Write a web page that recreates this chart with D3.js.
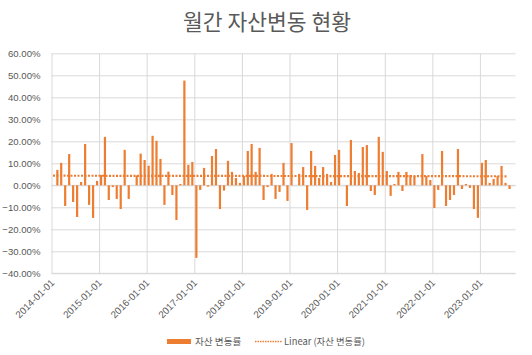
<!DOCTYPE html>
<html><head><meta charset="utf-8">
<script src="https://cdn.jsdelivr.net/npm/d3@7"></script>
<style>
html,body{margin:0;padding:0;background:#fff;}
text{font-family:"Liberation Sans","Noto Sans CJK KR",sans-serif;}
</style></head>
<body><svg id="c" width="532" height="355"></svg>
<script>
const title = "월간 자산변동 현황";
const seriesName = "자산 변동률";
const trendName = "Linear (자산 변동률)";
const startMonth = "2014-01-01";
// monthly change (%) from 2014-01 to 2023-08; null = no bar
const values = [
 null, 7.0, 10.2, -9.4, 14.2, -7.6, -14.4, 1.5, 18.8, -8.9, -14.8, 2.0,
 4.7, 22.0, -6.7, -0.8, -6.2, -10.8, 16.1, -6.2, null, 4.5, 14.4, 11.5,
 8.9, 22.5, 20.2, 12.0, -8.9, 6.2, -4.4, -15.8, 0.6, 47.6, 9.3, 10.6,
 -33.0, -2.1, 7.9, -0.6, 13.3, 16.5, -10.8, -2.4, 11.1, 6.1, 3.3, 1.1,
 4.2, 15.6, 18.8, 6.1, 17.0, -6.7, -0.8, 5.2, -6.2, -3.0, 10.2, -7.1,
 19.2, null, 5.2, 8.3, -11.2, 15.6, 8.8, 3.3, 8.3, 5.2, 1.5, 13.8,
 16.1, null, -9.4, 20.6, 6.5, 5.6, 17.4, 18.3, -2.6, -4.4, 22.0, 15.2,
 6.5, -4.8, 0.6, 6.1, -2.6, 6.1, 4.7, 4.2, null, 14.2, 4.2, 2.4,
 -10.3, -2.1, 15.6, -9.4, -6.7, -4.4, 16.5, -1.7, 0.6, -1.2, -10.8, -14.8,
 10.2, 11.5, 1.1, 2.9, 4.2, 8.8, 1.1, -1.7
];
const trendValues = [4.36, 4.1]; // linear trend at first and last month
const yTicks = [-40, -30, -20, -10, 0, 10, 20, 30, 40, 50, 60];
const xTickLabels = ["2014-01-01","2015-01-01","2016-01-01","2017-01-01","2018-01-01",
 "2019-01-01","2020-01-01","2021-01-01","2022-01-01","2023-01-01"];
const axisEnd = "2023-10-01";

const parse = d3.timeParse("%Y-%m-%d");
const t0 = parse(startMonth);
const data = values.map((v, i) => ({date: d3.timeMonth.offset(t0, i), v}));

const svg = d3.select("#c");
const L = 51.5, R = 515.5, T = 53.3, B = 273.3;
const x = d3.scaleTime().domain([t0, parse(axisEnd)]).range([L, R]);
const y = d3.scaleLinear().domain([-40, 60]).range([B, T]);
const grid = "#d9d9d9", txt = "#595959", orange = "#ED7D31";

// title
svg.append("text").attr("x", 267).attr("y", 30).attr("text-anchor", "middle")
  .attr("font-size", 21.5).attr("fill", txt)
  .style("font-family", "'Noto Sans CJK KR',sans-serif").text(title);

// horizontal gridlines + y labels
const yAxis = d3.axisLeft(y).tickValues(yTicks).tickSize(-(R - L))
  .tickFormat(d => d3.format(".2f")(d) + "%");
const gy = svg.append("g").attr("transform", `translate(${L},0)`).call(yAxis);
gy.select(".domain").remove();
gy.selectAll(".tick line").attr("stroke", grid).attr("stroke-width", 1);
gy.selectAll(".tick text").attr("x", -11).attr("fill", txt).attr("font-size", 9.6);

// vertical gridlines + x labels
const xDates = xTickLabels.map(parse);
const xAxis = d3.axisBottom(x).tickValues(xDates).tickSize(-(B - T))
  .tickFormat(d3.timeFormat("%Y-%m-%d"));
const gx = svg.append("g").attr("transform", `translate(0,${B})`).call(xAxis);
gx.select(".domain").remove();
gx.selectAll(".tick line").attr("stroke", grid).attr("stroke-width", 1);
gx.selectAll(".tick text").attr("fill", txt).attr("font-size", 9.8)
  .attr("text-anchor", "end").attr("dy", 0).attr("y", 0)
  .attr("transform", "translate(3,10) rotate(-45)");
svg.append("line").attr("x1", L).attr("x2", R).attr("y1", B).attr("y2", B).attr("stroke", grid);
svg.append("line").attr("x1", L).attr("x2", R).attr("y1", y(0)).attr("y2", y(0)).attr("stroke", grid);

// bars
const bw = 2.2;
svg.append("g").selectAll("rect").data(data.filter(d => d.v !== null)).join("rect")
  .attr("x", d => (x(d.date) + x(d3.timeMonth.offset(d.date, 1))) / 2 - bw / 2)
  .attr("width", bw)
  .attr("y", d => y(Math.max(0, d.v)))
  .attr("height", d => Math.abs(y(d.v) - y(0)))
  .attr("fill", orange);

// trend line
const tStart = data[0].date, tEnd = data[data.length - 1].date;
svg.append("line")
  .attr("x1", x(tStart) + 1.5).attr("x2", x(tEnd))
  .attr("y1", y(trendValues[0])).attr("y2", y(trendValues[1]))
  .attr("stroke", orange).attr("stroke-width", 2.2).attr("stroke-dasharray", "2,1.5");

// legend
const lg = svg.append("g");
lg.append("rect").attr("x", 167).attr("y", 339).attr("width", 24).attr("height", 5).attr("fill", orange);
lg.append("text").attr("x", 195).attr("y", 345).attr("font-size", 9.6).attr("fill", txt)
  .style("font-family", "'Noto Sans CJK KR',sans-serif").text(seriesName);
lg.append("line").attr("x1", 255).attr("x2", 282).attr("y1", 341.5).attr("y2", 341.5)
  .attr("stroke", orange).attr("stroke-width", 1.3).attr("stroke-dasharray", "1.5,1");
lg.append("text").attr("x", 284).attr("y", 345).attr("font-size", 9.4).attr("fill", txt)
  .style("font-family", "'Noto Sans CJK KR',sans-serif").text(trendName);
</script></body></html>
